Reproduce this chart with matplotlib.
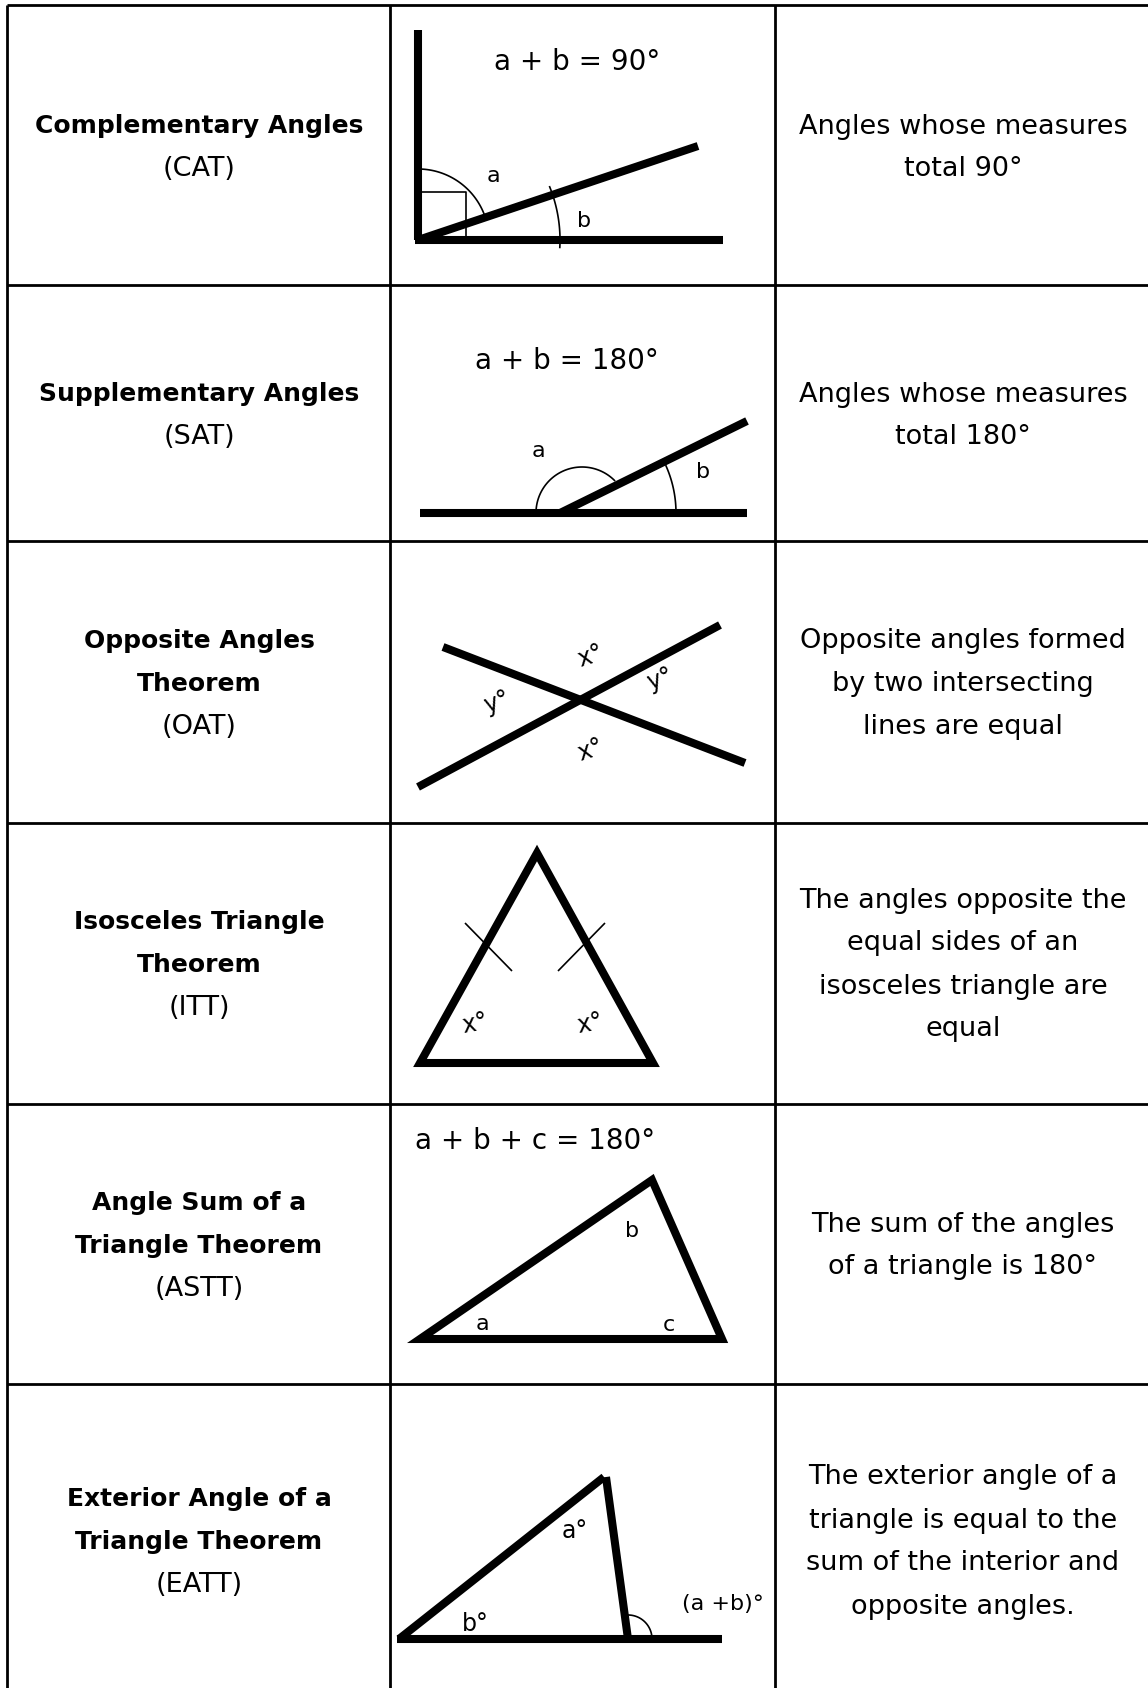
import numpy as np
import matplotlib
matplotlib.use("Agg")
import matplotlib.pyplot as plt
from matplotlib.patches import Polygon

# ---------------- content ----------------
left_titles = [
    ["Complementary Angles"],
    ["Supplementary Angles"],
    ["Opposite Angles", "Theorem"],
    ["Isosceles Triangle", "Theorem"],
    ["Angle Sum of a", "Triangle Theorem"],
    ["Exterior Angle of a", "Triangle Theorem"],
]
abbreviations = ["(CAT)", "(SAT)", "(OAT)", "(ITT)", "(ASTT)", "(EATT)"]
descriptions = [
    ["Angles whose measures", "total 90°"],
    ["Angles whose measures", "total 180°"],
    ["Opposite angles formed", "by two intersecting", "lines are equal"],
    ["The angles opposite the", "equal sides of an", "isosceles triangle are", "equal"],
    ["The sum of the angles", "of a triangle is 180°"],
    ["The exterior angle of a", "triangle is equal to the", "sum of the interior and", "opposite angles."],
]
formulas = ["a + b = 90°", "a + b = 180°", "", "", "a + b + c = 180°", ""]

# ---------------- layout (pixels) ----------------
W, H = 1148, 1688
col_x = [7, 390, 775]
row_y = [5, 285, 541, 823, 1104, 1384]
left_cx, right_cx = 199, 963
line_gap = 43

FONT = "DejaVu Sans"
THICK = 5.8
THIN = 1.2

fig = plt.figure(figsize=(W / 100, H / 100), dpi=100)
ax = fig.add_axes([0, 0, 1, 1])
ax.set_xlim(0, W)
ax.set_ylim(H, 0)
ax.axis("off")

# grid
for x in col_x:
    ax.plot([x, x], [row_y[0], H], color="black", lw=2.0, solid_capstyle="butt")
for y in row_y:
    ax.plot([col_x[0], W], [y, y], color="black", lw=2.0, solid_capstyle="butt")

# text columns
centers = [148, 416, 684, 965, 1246, 1542]
for i in range(6):
    lines = left_titles[i]
    n = len(lines) + 1
    y0 = centers[i] - (n - 1) * line_gap / 2
    for k, t in enumerate(lines):
        ax.text(left_cx, y0 + k * line_gap, t, ha="center", va="center",
                fontsize=18, fontweight="bold", family=FONT)
    ax.text(left_cx, y0 + len(lines) * line_gap, abbreviations[i], ha="center",
            va="center", fontsize=19.5, family=FONT)
    d = descriptions[i]
    yd = centers[i] - (len(d) - 1) * line_gap / 2
    for k, t in enumerate(d):
        ax.text(right_cx, yd + k * line_gap, t, ha="center", va="center",
                fontsize=19.5, family=FONT)


def seg(p, q, lw=THICK, cap="butt"):
    ax.plot([p[0], q[0]], [p[1], q[1]], color="black", lw=lw,
            solid_capstyle=cap, solid_joinstyle="miter")


def arc(c, r, a0, a1, lw=THIN):
    t = np.radians(np.linspace(a0, a1, 80))
    ax.plot(c[0] + r * np.cos(t), c[1] - r * np.sin(t), color="black", lw=lw)


def tri(pts):
    ax.add_patch(Polygon(pts, closed=True, fill=False, edgecolor="black",
                         lw=THICK, joinstyle="miter"))


def label(x, y, s, size=16, rot=0, ha="center"):
    ax.text(x, y, s, ha=ha, va="center", fontsize=size, rotation=rot,
            rotation_mode="anchor", family=FONT)


# ---- row 1: complementary ----
v1 = (418, 240)
seg((418, 30), v1)
seg((415, 240), (723, 240))
seg(v1, (698, 146))
ax.plot([418, 466, 466], [192, 192, 240], color="black", lw=THIN)
arc(v1, 71, 19, 90)
arc(v1, 142, -3, 22)
label(493, 176, "a")
label(584, 221, "b")
label(577, 62, formulas[0], size=20)

# ---- row 2: supplementary ----
seg((420, 513), (747, 513))
seg((560, 513), (747, 421))
arc((582, 513), 46, 45, 180)
arc((560, 513), 116, 0, 24)
label(538, 451, "a")
label(703, 472, "b")
label(567, 361, formulas[1], size=20)

# ---- row 3: opposite angles ----
seg((443, 647), (745, 763))
seg((418, 787), (720, 625))
label(590, 656, "x°", size=17, rot=18)
label(590, 750, "x°", size=17, rot=18)
label(497, 703, "y°", size=17, rot=18)
label(660, 680, "y°", size=17, rot=18)

# ---- row 4: isosceles ----
tri([[537, 853], [420, 1063], [653, 1063]])
seg((465, 923), (512, 971), lw=THIN)
seg((605, 923), (558, 971), lw=THIN)
label(475, 1024, "x°", size=17, rot=10)
label(590, 1024, "x°", size=17, rot=10)

# ---- row 5: angle sum ----
tri([[420, 1339], [652, 1180], [722, 1339]])
label(482, 1324, "a")
label(632, 1231, "b")
label(669, 1325, "c")
label(415, 1141, formulas[4], size=20, ha="left")

# ---- row 6: exterior angle ----
seg((397, 1639), (722, 1639))
seg((399, 1639), (604, 1477))
seg((606, 1477), (628, 1639))
arc((628, 1639), 24, 0, 98)
label(575, 1531, "a°", size=17)
label(475, 1624, "b°", size=17)
label(682, 1604, "(a +b)°", size=16, ha="left")

fig.savefig("out.png", dpi=100)
